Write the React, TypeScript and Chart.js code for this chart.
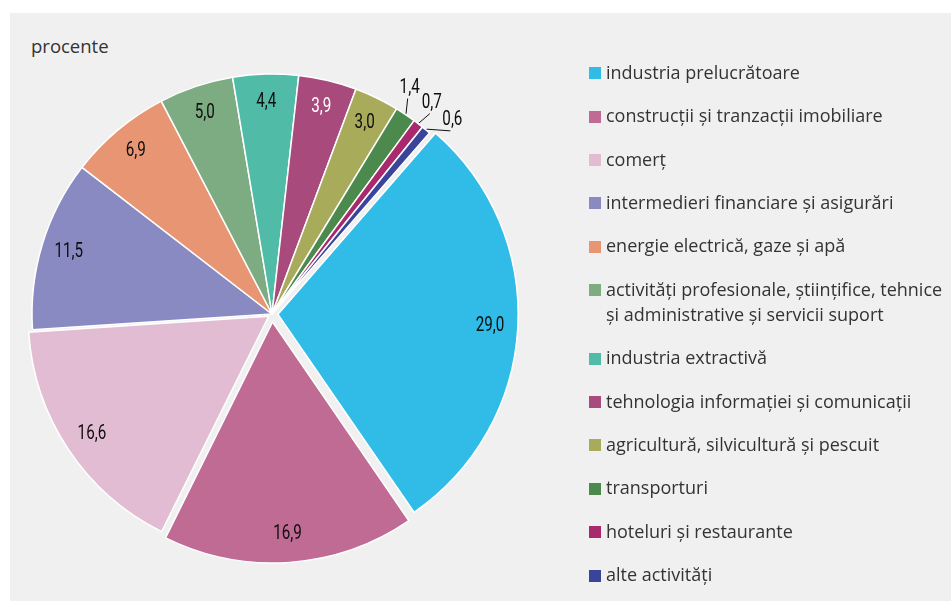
import React, { useEffect, useRef } from "react";
import { Chart, registerables } from "chart.js";

Chart.register(...registerables);

const categories: string[] = [
  "industria prelucrătoare",
  "construcții și tranzacții imobiliare",
  "comerț",
  "intermedieri financiare și asigurări",
  "energie electrică, gaze și apă",
  "activități profesionale, științifice, tehnice\nși administrative și servicii suport",
  "industria extractivă",
  "tehnologia informației și comunicații",
  "agricultură, silvicultură și pescuit",
  "transporturi",
  "hoteluri și restaurante",
  "alte activități",
];

const values: number[] = [29.0, 16.9, 16.6, 11.5, 6.9, 5.0, 4.4, 3.9, 3.0, 1.4, 0.7, 0.6];

const sliceColors: string[] = [
  "#31bce8",
  "#bf6b94",
  "#e2bcd3",
  "#8a8ac3",
  "#e79573",
  "#7dab82",
  "#50bca8",
  "#a94a7c",
  "#a8ab5a",
  "#4b8a4c",
  "#a82a6d",
  "#3a449a",
];

const labelColors: string[] = [
  "#0d0d0d", "#0d0d0d", "#0d0d0d", "#0d0d0d", "#0d0d0d", "#0d0d0d", "#0d0d0d", "#ffffff", "#0d0d0d", "#0d0d0d", "#0d0d0d", "#0d0d0d",
];

// exploded slices (Chart.js translates by offset/4)
const sliceOffsets: number[] = [24, 32, 16, 0, 0, 0, 0, 0, 0, 0, 0, 0];

const unitLabel = "procente";

const fmt = (v: number) => v.toFixed(1).replace(".", ",");

const LABEL_FONT = '400 20px Roboto, "Noto Sans", sans-serif';
const LABEL_SQUEEZE = 0.76;
const UI_FONT = '"Open Sans", "Noto Sans", sans-serif';

function drawSqueezed(ctx: CanvasRenderingContext2D, text: string, x: number, y: number) {
  ctx.save();
  ctx.translate(x, y);
  ctx.scale(LABEL_SQUEEZE, 1);
  ctx.fillText(text, 0, 0);
  ctx.restore();
}

const labelPlugin = {
  id: "sliceLabels",
  afterDatasetsDraw(chart: any) {
    const ctx = chart.ctx;
    const meta = chart.getDatasetMeta(0);
    ctx.save();
    ctx.font = LABEL_FONT;
    ctx.textAlign = "center";
    ctx.textBaseline = "middle";
    const outside: any[] = [];
    meta.data.forEach((arc: any, i: number) => {
      const p = arc.getProps(["x", "y", "startAngle", "endAngle", "outerRadius"], true);
      const off = (arc.options.offset || 0) / 4;
      const mid = (p.startAngle + p.endAngle) / 2;
      const cx = p.x + Math.cos(mid) * off;
      const cy = p.y + Math.sin(mid) * off;
      const text = fmt(values[i]);
      if (values[i] >= 2) {
        const d = p.outerRadius * 0.885;
        ctx.fillStyle = labelColors[i];
        drawSqueezed(ctx, text, cx + Math.cos(mid) * d, cy + Math.sin(mid) * d);
      } else {
        outside.push({ i, mid, ang: mid, cx, cy, r: p.outerRadius, text });
      }
    });
    if (outside.length) {
      outside.sort((a, b) => a.mid - b.mid);
      const sep = (5.8 * Math.PI) / 180;
      for (let k = 1; k < outside.length; k++) {
        if (outside[k].ang - outside[k - 1].ang < sep) outside[k].ang = outside[k - 1].ang + sep;
      }
      const meanMid = outside.reduce((s, o) => s + o.mid, 0) / outside.length;
      const meanAng = outside.reduce((s, o) => s + o.ang, 0) / outside.length;
      const shift = meanMid - meanAng;
      outside.forEach((o) => {
        o.ang += shift;
        const lr = o.r + 25;
        const lx = o.cx + Math.cos(o.ang) * lr;
        const ly = o.cy + Math.sin(o.ang) * lr;
        const sx = o.cx + Math.cos(o.mid) * (o.r + 1);
        const sy = o.cy + Math.sin(o.mid) * (o.r + 1);
        ctx.strokeStyle = "#111";
        ctx.lineWidth = 1;
        ctx.beginPath();
        ctx.moveTo(sx, sy);
        ctx.lineTo(lx - 2, ly + 11);
        ctx.stroke();
        ctx.fillStyle = labelColors[o.i];
        drawSqueezed(ctx, o.text, lx, ly);
      });
    }
    ctx.restore();
  },
};

export default function App() {
  const canvasRef = useRef<HTMLCanvasElement>(null);

  useEffect(() => {
    if (!canvasRef.current) return;
    const chart = new Chart(canvasRef.current, {
      type: "pie",
      data: {
        labels: categories,
        datasets: [
          {
            data: values,
            backgroundColor: sliceColors,
            borderColor: "#ffffff",
            borderWidth: 1.5,
            offset: sliceOffsets,
          },
        ],
      },
      options: {
        responsive: false,
        animation: false,
        radius: 240,
        rotation: 41,
        layout: { padding: { left: 22, top: 64, right: 429, bottom: 37 } },
        plugins: {
          legend: { display: false },
          tooltip: { enabled: false },
          title: { display: false },
        },
      } as any,
      plugins: [labelPlugin],
    });
    return () => chart.destroy();
  }, []);

  return (
    <div style={{ position: "absolute", left: 0, top: 0, width: 951, height: 601, background: "#ffffff", overflow: "hidden" }}>
      <div style={{ position: "absolute", left: 10, top: 13, width: 941, height: 588, background: "#f0f0f0" }} />
      <div
        style={{
          position: "absolute",
          left: 31,
          top: 36,
          fontFamily: UI_FONT,
          fontSize: 18.5,
          lineHeight: "20px",
          color: "#333",
        }}
      >
        {unitLabel}
      </div>
      <canvas ref={canvasRef} width={951} height={601} style={{ position: "absolute", left: 0, top: 0, width: 951, height: 601 }} />
      <div
        style={{
          position: "absolute",
          left: 589,
          top: 59.8,
          display: "flex",
          flexDirection: "column",
          gap: 18.4,
          fontFamily: UI_FONT,
          fontSize: 18,
          lineHeight: "25px",
          color: "#333",
        }}
      >
        {categories.map((c, i) => (
          <div key={i} style={{ display: "flex", alignItems: "flex-start" }}>
            <div style={{ width: 12, height: 12, marginTop: 7.5, marginRight: 5, background: sliceColors[i], flex: "none" }} />
            <div style={{ whiteSpace: "pre" }}>{c}</div>
          </div>
        ))}
      </div>
    </div>
  );
}
